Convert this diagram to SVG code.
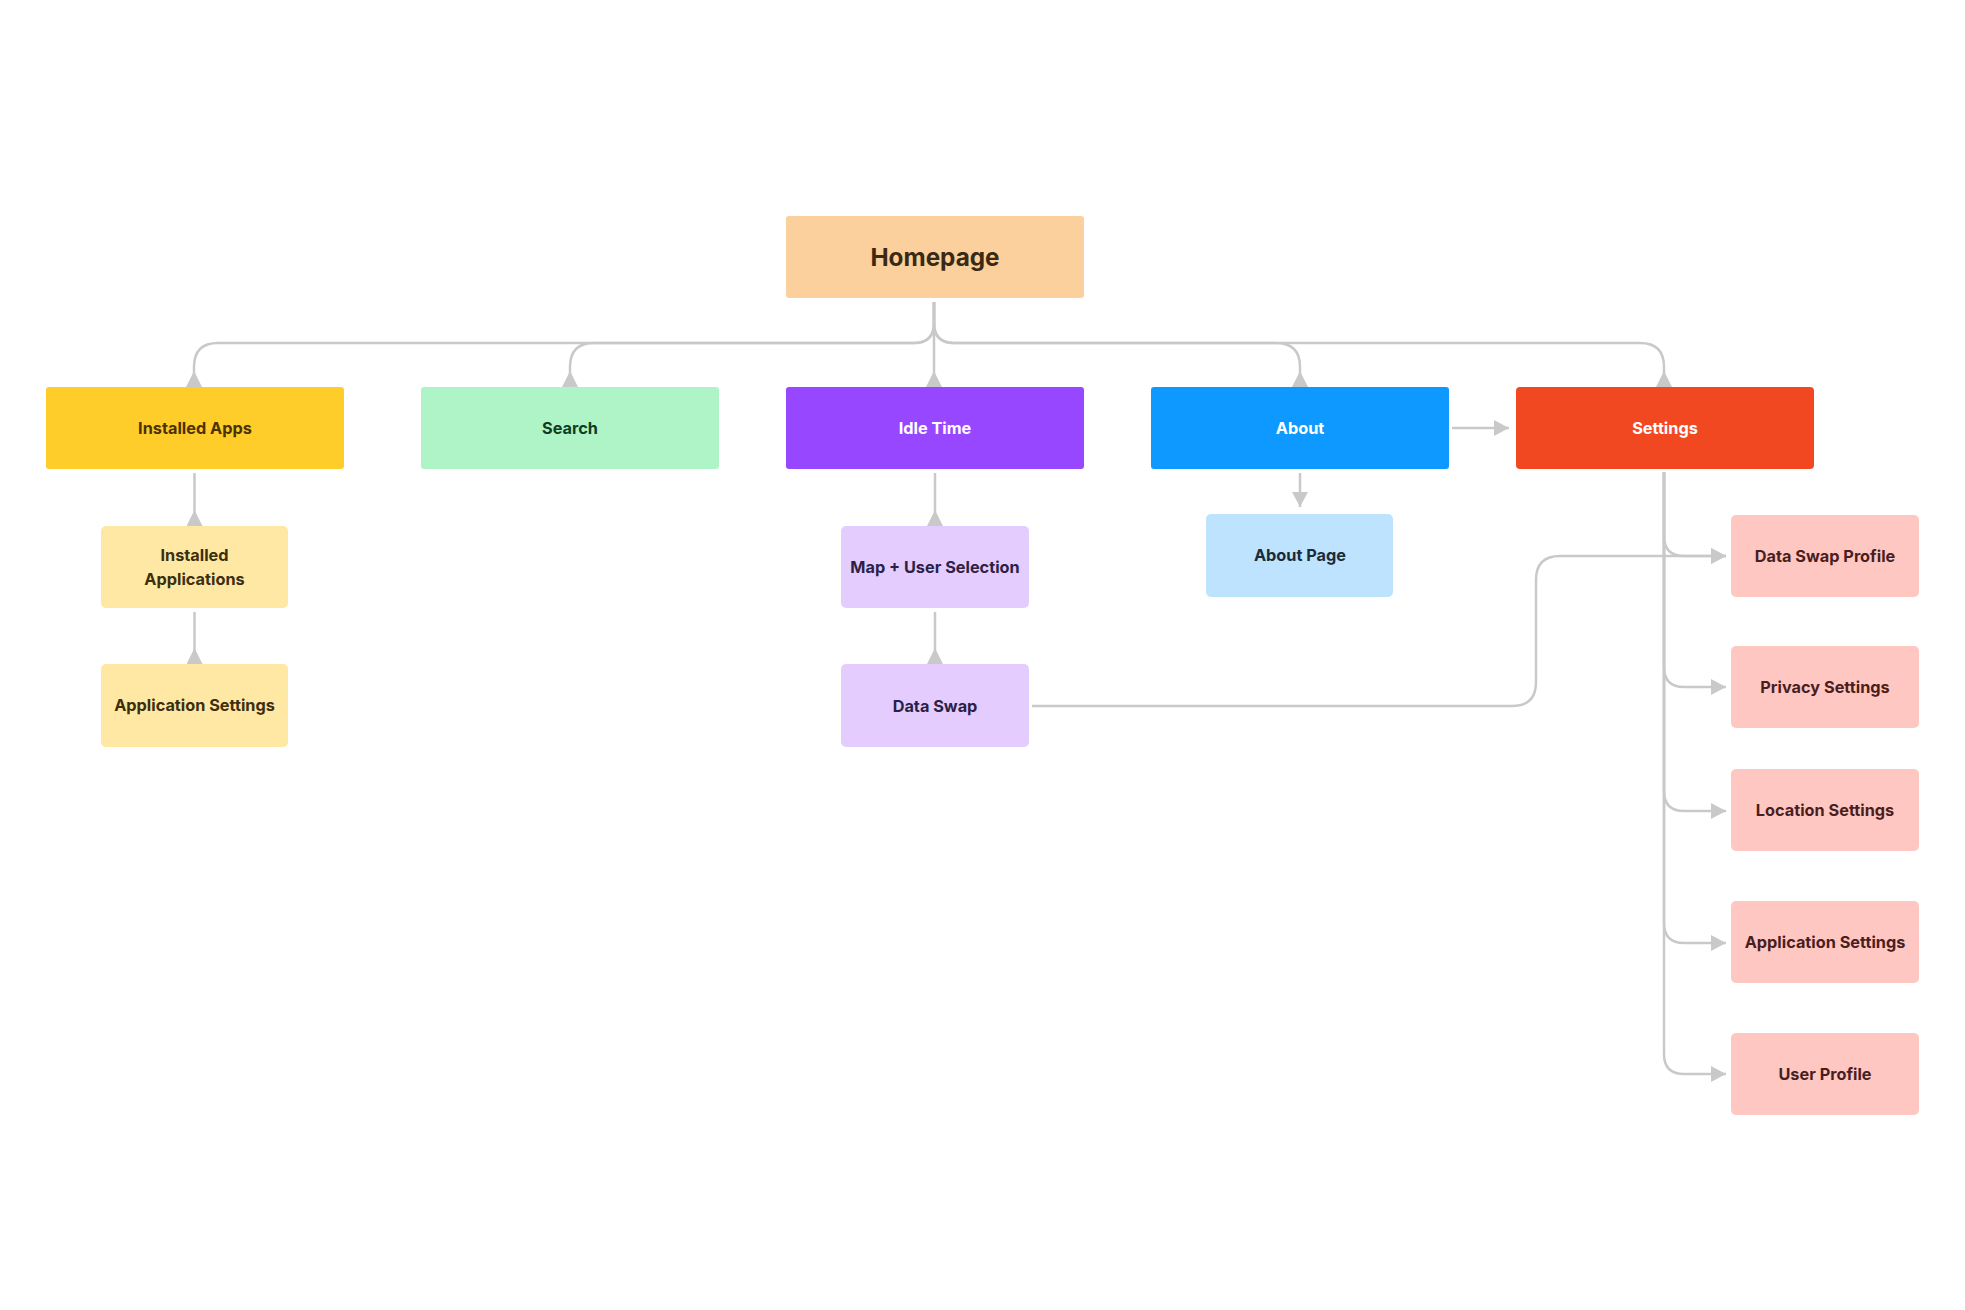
<svg xmlns="http://www.w3.org/2000/svg" width="1965" height="1310" viewBox="0 0 1965 1310">
<style>
.c{fill:none;stroke:#c9c9c9;stroke-width:2.5}
text{font-family:Inter,"Liberation Sans",sans-serif;font-weight:700;font-size:16.3px;text-anchor:middle}
.w{fill:#ffffff}
</style>
<defs>
<marker id="rev" markerUnits="userSpaceOnUse" viewBox="0 0 16 16" markerWidth="16" markerHeight="16" refX="16" refY="8" orient="auto"><path d="M16,0 L0,8 L16,16 z" fill="#c9c9c9"/></marker>
<marker id="fwd" markerUnits="userSpaceOnUse" viewBox="0 0 15 16" markerWidth="15" markerHeight="16" refX="15" refY="8" orient="auto"><path d="M0,0 L15,8 L0,16 z" fill="#c9c9c9"/></marker>
</defs>
<rect width="1965" height="1310" fill="#ffffff"/>
<g id="connectors">
<path class="c" d="M934,302 V323 Q934,343 914,343 H218 Q194,343 194,367 V387" marker-end="url(#rev)"/>
<path class="c" d="M934,302 V323 Q934,343 914,343 H594 Q570,343 570,367 V387" marker-end="url(#rev)"/>
<path class="c" d="M934,302 V387" marker-end="url(#rev)"/>
<path class="c" d="M934,302 V323 Q934,343 954,343 H1276 Q1300,343 1300,367 V387" marker-end="url(#rev)"/>
<path class="c" d="M934,302 V323 Q934,343 954,343 H1640 Q1664,343 1664,367 V387" marker-end="url(#rev)"/>
<path class="c" d="M194.5,473 V526" marker-end="url(#rev)"/>
<path class="c" d="M194.5,612 V664" marker-end="url(#rev)"/>
<path class="c" d="M935,473 V526" marker-end="url(#rev)"/>
<path class="c" d="M935,612 V664" marker-end="url(#rev)"/>
<path class="c" d="M1300,473 V507" marker-end="url(#fwd)"/>
<path class="c" d="M1452,428 H1509" marker-end="url(#fwd)"/>
<path class="c" d="M1664,472 V536 Q1664,556 1684,556 H1726" marker-end="url(#fwd)"/>
<path class="c" d="M1664,472 V667 Q1664,687 1684,687 H1726" marker-end="url(#fwd)"/>
<path class="c" d="M1664,472 V791 Q1664,811 1684,811 H1726" marker-end="url(#fwd)"/>
<path class="c" d="M1664,472 V923 Q1664,943 1684,943 H1726" marker-end="url(#fwd)"/>
<path class="c" d="M1664,472 V1054 Q1664,1074 1684,1074 H1726" marker-end="url(#fwd)"/>
<path class="c" d="M1032,706 H1512 Q1536,706 1536,682 V580 Q1536,556 1560,556 H1726" marker-end="url(#fwd)"/>
</g>
<g id="homepage"><rect x="786" y="216" width="298" height="82" rx="3" fill="#FBD09D"/><text x="935" y="266" fill="#3a2a14" style="font-size:24.3px">Homepage</text></g>
<g id="installed-apps"><rect x="46" y="387" width="298" height="82" rx="3" fill="#FFCD29"/><text x="195" y="434" fill="#4a3300">Installed Apps</text></g>
<g id="search"><rect x="421" y="387" width="298" height="82" rx="3" fill="#AFF4C6"/><text x="570" y="434" fill="#0f3d22">Search</text></g>
<g id="idle-time"><rect x="786" y="387" width="298" height="82" rx="3" fill="#9747FF"/><text x="935" y="434" class="w">Idle Time</text></g>
<g id="about"><rect x="1151" y="387" width="298" height="82" rx="3" fill="#0D99FF"/><text x="1300" y="434" class="w">About</text></g>
<g id="settings"><rect x="1516" y="387" width="298" height="82" rx="4" fill="#F24822"/><text x="1665" y="434" class="w">Settings</text></g>
<g id="installed-applications"><rect x="101" y="526" width="187" height="82" rx="5" fill="#FFE8A3"/><text x="194.5" y="561" fill="#3d2e10">Installed</text><text x="194.5" y="585" fill="#3d2e10">Applications</text></g>
<g id="application-settings-1"><rect x="101" y="664" width="187" height="83" rx="5" fill="#FFE8A3"/><text x="194.5" y="711" fill="#3d2e10">Application Settings</text></g>
<g id="map-user-selection"><rect x="841" y="526" width="188" height="82" rx="5" fill="#E4CCFF"/><text x="935" y="573" fill="#2d1f45">Map + User Selection</text></g>
<g id="data-swap"><rect x="841" y="664" width="188" height="83" rx="5" fill="#E4CCFF"/><text x="935" y="712" fill="#2d1f45">Data Swap</text></g>
<g id="about-page"><rect x="1206" y="514" width="187" height="83" rx="5" fill="#BDE3FF"/><text x="1300" y="561" fill="#1c2a3a">About Page</text></g>
<g id="data-swap-profile"><rect x="1731" y="515" width="188" height="82" rx="5" fill="#FFC7C2"/><text x="1825" y="562" fill="#4a1e1e">Data Swap Profile</text></g>
<g id="privacy-settings"><rect x="1731" y="646" width="188" height="82" rx="5" fill="#FFC7C2"/><text x="1825" y="693" fill="#4a1e1e">Privacy Settings</text></g>
<g id="location-settings"><rect x="1731" y="769" width="188" height="82" rx="5" fill="#FFC7C2"/><text x="1825" y="816" fill="#4a1e1e">Location Settings</text></g>
<g id="application-settings-2"><rect x="1731" y="901" width="188" height="82" rx="5" fill="#FFC7C2"/><text x="1825" y="948" fill="#4a1e1e">Application Settings</text></g>
<g id="user-profile"><rect x="1731" y="1033" width="188" height="82" rx="5" fill="#FFC7C2"/><text x="1825" y="1080" fill="#4a1e1e">User Profile</text></g>
</svg>
